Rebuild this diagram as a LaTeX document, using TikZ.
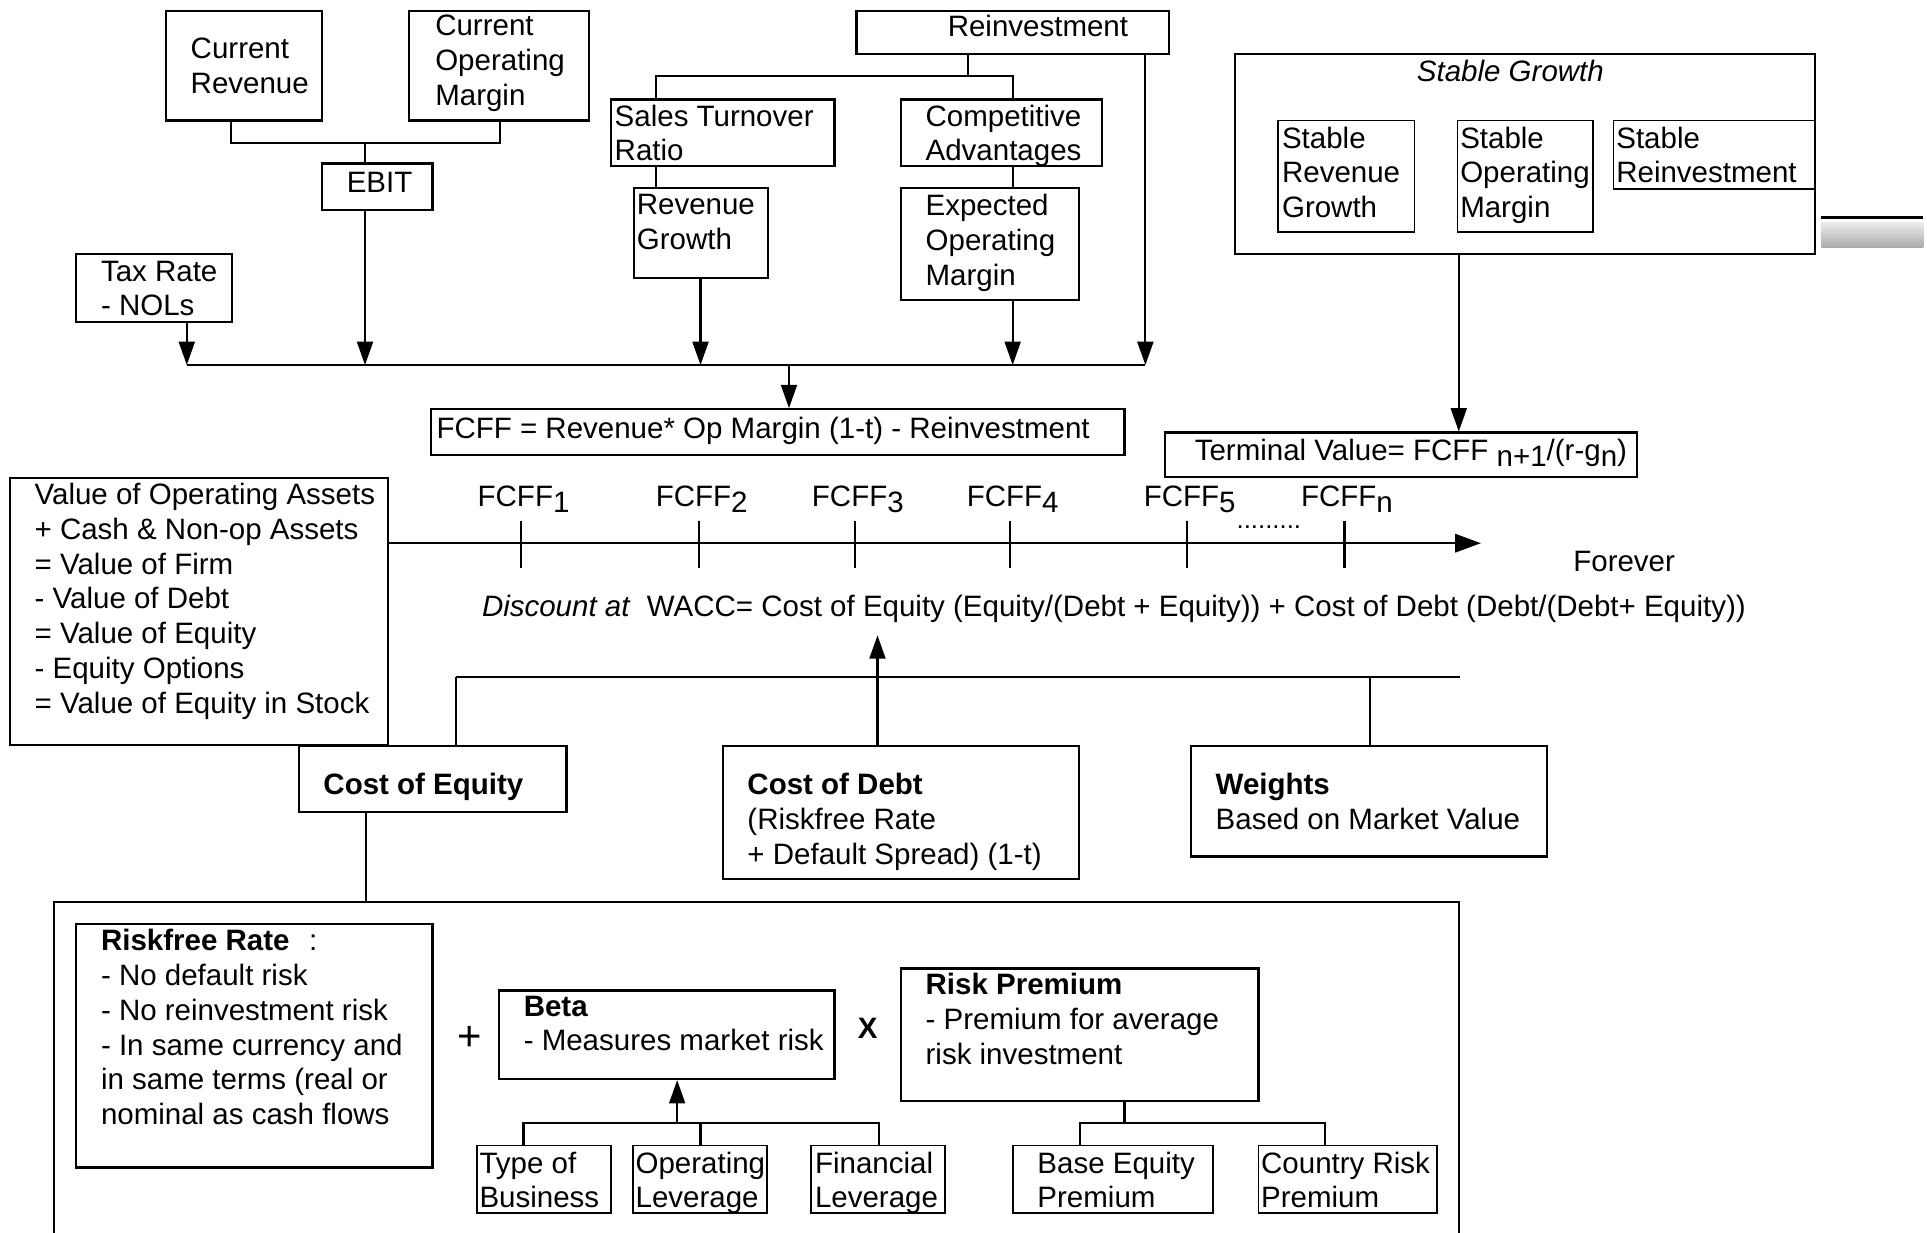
\documentclass[tikz,border=0pt]{standalone}
\usepackage{fontspec}
\setmainfont{Liberation Sans}
\usetikzlibrary{arrows.meta,fit,calc}
\newcommand{\mkbox}[6][]{%
  \path (#3,#4) coordinate (#2-nw) (#5,#6) coordinate (#2-se);
  \node[boxst,#1,fit=(#2-nw)(#2-se)] (#2) {};}
\begin{document}
\begin{tikzpicture}[x=1pt,y=-1pt,
  boxst/.style={draw, line width=1.8pt, inner sep=0pt},
  thinbox/.style={line width=1.4pt},
  txt/.style={anchor=north west, align=left, inner sep=0pt},
  conn/.style={line width=1.7pt},
  arr/.style={conn, -{Triangle[width=13pt,length=19pt]}},
  tlarr/.style={conn, -{Triangle[width=15pt,length=21pt]}},
  every node/.append style={font=\fontsize{24}{28.3}\selectfont}]
\useasboundingbox (0,0) rectangle (1568,1003);

% ---------- top left ----------
\mkbox{cr}{135}{9}{262}{98}
\mkbox{com}{333}{9}{479}{98}
\mkbox{ebit}{262}{133}{352}{171}
\mkbox{tax}{62}{207}{189}{262}
\node[txt] (cr-t) at (155,31) {Current\\Revenue};
\node[txt] (com-t) at (354,12) {Current\\Operating\\Margin};
\node[txt] (ebit-t) at (282,140) {EBIT};
\node[txt] (tax-t) at (82,212) {Tax Rate\\- NOLs};

% ---------- top middle ----------
\mkbox{reinv}{697}{9}{951}{44}
\mkbox{sales}{497}{81}{679}{135}
\mkbox{comp}{733}{81}{897}{135}
\mkbox{rg}{516}{153}{625}{226}
\mkbox{eom}{733}{153}{878}{244}
\node[txt] (reinv-t) at (771,12) {Reinvestment};
\node[txt] (sales-t) at (500,85) {Sales Turnover\\Ratio};
\node[txt] (comp-t) at (753,85) {Competitive\\Advantages};
\node[txt] (rg-t) at (518,158) {Revenue\\Growth};
\node[txt] (eom-t) at (753,158) {Expected\\Operating\\Margin};

\mkbox{fcff}{351}{333}{915}{370}
\node[txt] (fcff-t) at (355,339) {FCFF = Revenue* Op Margin (1-t) - Reinvestment};

% ---------- stable growth ----------
\mkbox{sg}{1005}{44}{1477}{207}
\mkbox[thinbox]{srg}{1040}{98}{1151}{189}
\mkbox[thinbox]{som}{1186}{98}{1296}{189}
\mkbox[thinbox]{sri}{1313}{98}{1477}{154}
\node[anchor=north, inner sep=0pt] (sg-t) at (1229,49) {\itshape Stable Growth};
\node[txt] (srg-t) at (1043,103) {Stable\\Revenue\\Growth};
\node[txt] (som-t) at (1188,103) {Stable\\Operating\\Margin};
\node[txt] (sri-t) at (1315,103) {Stable\\Reinvestment};
\draw[line width=2.2pt] (1482,177) -- (1565,177);
\shade[top color=gray!15, bottom color=gray!65] (1482,181) rectangle (1565,201);

\mkbox{tv}{948}{352}{1332}{388}
\node[txt] (tv-t) at (972,357) {Terminal Value= FCFF \raisebox{-5pt}{n+1}/(r-g\raisebox{-5pt}{n})};

% ---------- connectors top ----------
\coordinate (j1) at (297,116);
\draw[conn] (cr.south -| 188,0) |- (j1) -| (com.south -| 407,0);
\draw[conn] (j1) -- (ebit.north -| j1);
\coordinate (busL) at (152,297);
\coordinate (busR) at (932,297);
\draw[conn] (busL) -- (busR);
\draw[arr] (tax.south -| busL) -- (busL);
\draw[arr] (ebit.south -| j1) -- (busL -| j1);
\draw[arr] (rg.south -| 570,0) -- (busL -| 570,0);
\draw[arr] (eom.south -| 824,0) -- (busL -| 824,0);
\draw[arr] (reinv.south -| busR) -- (busR);
\draw[arr] (busL -| 642,0) -- (fcff.north -| 642,0);
\coordinate (j2) at (788,62);
\draw[conn] (reinv.south -| j2) -- (j2);
\draw[conn] (sales.north -| 534,0) |- (j2) -| (comp.north -| 824,0);
\draw[conn] (sales.south -| 534,0) -- (rg.north -| 534,0);
\draw[conn] (comp.south -| 824,0) -- (eom.north -| 824,0);
\draw[arr] (sg.south -| 1187,0) -- (tv.north -| 1187,0);

% ---------- timeline ----------
\mkbox{val}{8}{389}{316}{606}
\node[txt] (val-t) at (28,393) {Value of Operating Assets\\+ Cash \& Non-op Assets\\= Value of Firm\\- Value of Debt\\= Value of Equity\\- Equity Options\\= Value of Equity in Stock};
\coordinate (tlend) at (1205,442);
\draw[tlarr] (val.east |- tlend) -- (tlend);
\foreach \x/\s [count=\i] in {424/1,569/2,696/3,822/4,966/5,1094/n} {
  \draw[conn] (\x,424) -- (\x,462);
  \node[anchor=base, inner sep=0pt] (lab\i) at (\x+2,412) {FCFF\raisebox{-5pt}{\s}};
}
\node[anchor=base west, inner sep=0pt, font=\fontsize{21}{24}\selectfont] (dots) at (1006,430) {.........};
\node[txt] (forever) at (1280,448) {Forever};
\node[txt] (wacc) at (392,484) {\textit{Discount at}\ \ WACC= Cost of Equity (Equity/(Debt + Equity)) + Cost of Debt (Debt/(Debt+ Equity))};

% ---------- WACC components ----------
\mkbox{coe}{243}{607}{461}{661}
\mkbox{cod}{588}{607}{878}{715}
\mkbox{wts}{969}{607}{1259}{697}
\node[txt] (coe-t) at (263,629) {\bfseries Cost of Equity};
\node[txt] (cod-t) at (608,629) {\textbf{Cost of Debt}\\(Riskfree Rate\\+ Default Spread) (1-t)};
\node[txt] (wts-t) at (989,629) {\textbf{Weights}\\Based on Market Value};
\coordinate (h1) at (371,551);
\coordinate (h2) at (1188,551);
\draw[conn] (h1) -- (h2);
\draw[conn] (h1) -- (coe.north -| h1);
\draw[conn] (h1 -| 1115,0) -- (wts.north -| 1115,0);
\coordinate (wtip) at (714,517);
\draw[arr] (cod.north -| wtip) -- (wtip);

% ---------- cost of equity detail ----------
\coordinate (bigBL) at (44,1003);
\coordinate (bigTL) at (44,734);
\coordinate (bigTR) at (1187,734);
\coordinate (bigBR) at (1187,1003);
\draw[conn] (bigBL) -- (bigTL) -- (bigTR) -- (bigBR);
\draw[conn] (coe.south -| 298,0) -- (bigTL -| 298,0);

\mkbox{rf}{62}{752}{352}{950}
\mkbox{beta}{406}{806}{679}{878}
\mkbox{rp}{733}{788}{1024}{896}
\mkbox[thinbox]{tob}{388}{932}{497}{987}
\mkbox[thinbox]{opl}{515}{932}{624}{987}
\mkbox[thinbox]{fin}{660}{932}{769}{987}
\mkbox[thinbox]{bep}{824}{932}{987}{987}
\mkbox[thinbox]{crp}{1024}{932}{1169}{987}
\node[txt] (rf-t) at (82,756) {\textbf{Riskfree Rate}\hspace{16pt}:\\- No default risk\\- No reinvestment risk\\- In same currency and\\in same terms (real or\\nominal as cash flows};
\node[txt] (beta-t) at (426,810) {\textbf{Beta}\\- Measures market risk};
\node[txt] (rp-t) at (753,792) {\textbf{Risk Premium}\\- Premium for average\\risk investment};
\node[txt] (tob-t) at (390,937) {Type of\\Business};
\node[txt] (opl-t) at (517,937) {Operating\\Leverage};
\node[txt] (fin-t) at (663,937) {Financial\\Leverage};
\node[txt] (bep-t) at (844,937) {Base Equity\\Premium};
\node[txt] (crp-t) at (1026,937) {Country Risk\\Premium};
\node[inner sep=0pt, font=\fontsize{34}{34}\selectfont] (plus) at (382,845) {+};
\node[inner sep=0pt] (times) at (706,837) {\bfseries X};

\coordinate (j3) at (551,914);
\draw[arr] (j3) -- (beta.south -| j3);
\draw[conn] (tob.north -| 426,0) |- (j3) -| (fin.north -| 715,0);
\draw[conn] (opl.north -| 570,0) -- (j3 -| 570,0);
\coordinate (j4) at (915,914);
\draw[conn] (rp.south -| j4) -- (j4);
\draw[conn] (bep.north -| 879,0) |- (j4) -| (crp.north -| 1078,0);
\end{tikzpicture}
\end{document}
